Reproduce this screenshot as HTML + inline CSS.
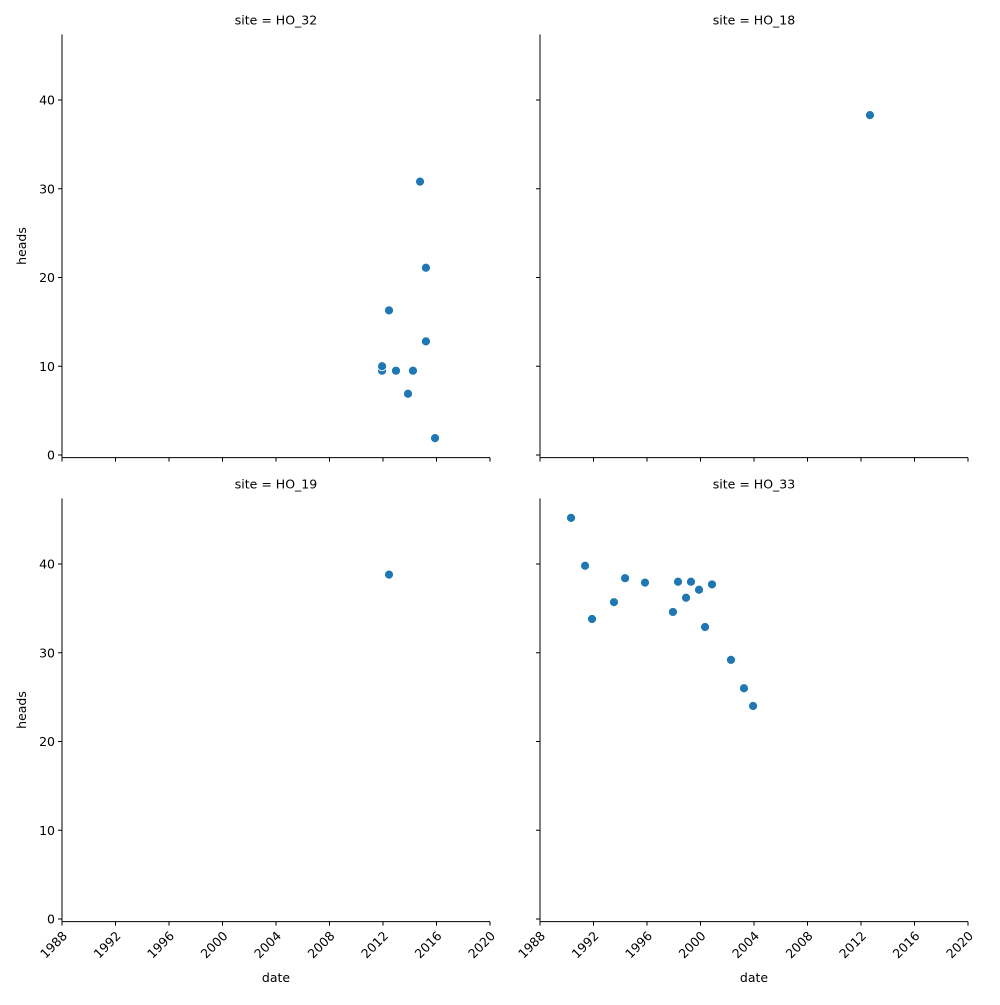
<!DOCTYPE html>
<html><head><meta charset="utf-8"><style>body{margin:0;background:#fff}text{font-family:"DejaVu Sans","Liberation Sans",sans-serif;font-size:12.5px;fill:#000}</style></head>
<body>
<svg id="fig" width="1000" height="1000" xmlns="http://www.w3.org/2000/svg"></svg>
<script>
const sites = ["HO_32","HO_18","HO_19","HO_33"];
const xTicks = [1988,1992,1996,2000,2004,2008,2012,2016,2020];
const yTicks = [0,10,20,30,40];
const dates_HO_32 = [2011.93,2011.93,2012.45,2012.97,2013.87,2014.24,2014.77,2015.21,2015.21,2015.89];
const heads_HO_32 = [9.5,10.0,16.3,9.5,6.9,9.5,30.8,21.1,12.8,1.9];
const dates_HO_18 = [2012.67];
const heads_HO_18 = [38.3];
const dates_HO_19 = [2012.45];
const heads_HO_19 = [38.8];
const dates_HO_33 = [1990.32,1991.37,1991.89,1993.53,1994.36,1995.85,1997.94,1998.32,1998.92,1999.29,1999.89,2000.34,2000.86,2002.28,2003.25,2003.93];
const heads_HO_33 = [45.2,39.8,33.8,35.7,38.4,37.9,34.6,38.0,36.2,38.0,37.1,32.9,37.7,29.2,26.0,24.0];
const seriesDates = [dates_HO_32,dates_HO_18,dates_HO_19,dates_HO_33];
const seriesHeads = [heads_HO_32,heads_HO_18,heads_HO_19,heads_HO_33];

const svg=document.getElementById('fig');
const NS='http://www.w3.org/2000/svg';
function mk(tag,attrs,parent){const e=document.createElementNS(NS,tag);for(const k in attrs)e.setAttribute(k,attrs[k]);(parent||svg).appendChild(e);return e;}
const panels=[{x0:62,y0:455,row:0,col:0},{x0:540,y0:455,row:0,col:1},{x0:62,y0:919,row:1,col:0},{x0:540,y0:919,row:1,col:1}];
const W=428, pxYear=W/32, pxUnit=8.875;
panels.forEach((p,i)=>{
  const g=mk('g',{});
  
  
  const X=v=>p.x0+(v-1988)*pxYear;
  const Y=v=>p.y0-v*pxUnit;
  const top=Y(47.4), bot=Y(-0.3);
  const t=mk('text',{x:p.x0+W/2,y:top-10,'text-anchor':'middle'},g);t.textContent='site = '+sites[i];
  
  const ya=mk('line',{x1:p.x0,y1:top,x2:p.x0,y2:bot,stroke:'#000','stroke-width':1},g);
  
  const xa=mk('line',{x1:p.x0,y1:bot,x2:p.x0+W,y2:bot,stroke:'#000','stroke-width':1},g);
  
  yTicks.forEach(v=>{
    mk('line',{x1:p.x0-4,y1:Y(v),x2:p.x0,y2:Y(v),stroke:'#000'},g);
    if(p.col===0){const tl=mk('text',{x:p.x0-7,y:Y(v)+4.5,'text-anchor':'end'},g);tl.textContent=v;
      }
  });
  xTicks.forEach(v=>{
    mk('line',{x1:X(v),y1:bot,x2:X(v),y2:bot+4,stroke:'#000'},g);
    if(p.row===1){const tl=mk('text',{x:X(v)+6,y:bot+15,'text-anchor':'end',transform:`rotate(-45 ${X(v)+6} ${bot+15})`},g);tl.textContent=v;
      }
  });
  if(p.col===0){const yl=mk('text',{x:0,y:0,'text-anchor':'middle',transform:`translate(26 ${(top+bot)/2}) rotate(-90)`},g);yl.textContent='heads';
    }
  if(p.row===1){const xl=mk('text',{x:p.x0+W/2,y:982,'text-anchor':'middle'},g);xl.textContent='date';
    }
  seriesDates[i].forEach((d,j)=>{
    const c=mk('circle',{cx:X(d),cy:Y(seriesHeads[i][j]),r:4.5,fill:'#1f77b4',stroke:'#fff','stroke-width':0.8},g);
    
    
  });
});
</script>
</body></html>
